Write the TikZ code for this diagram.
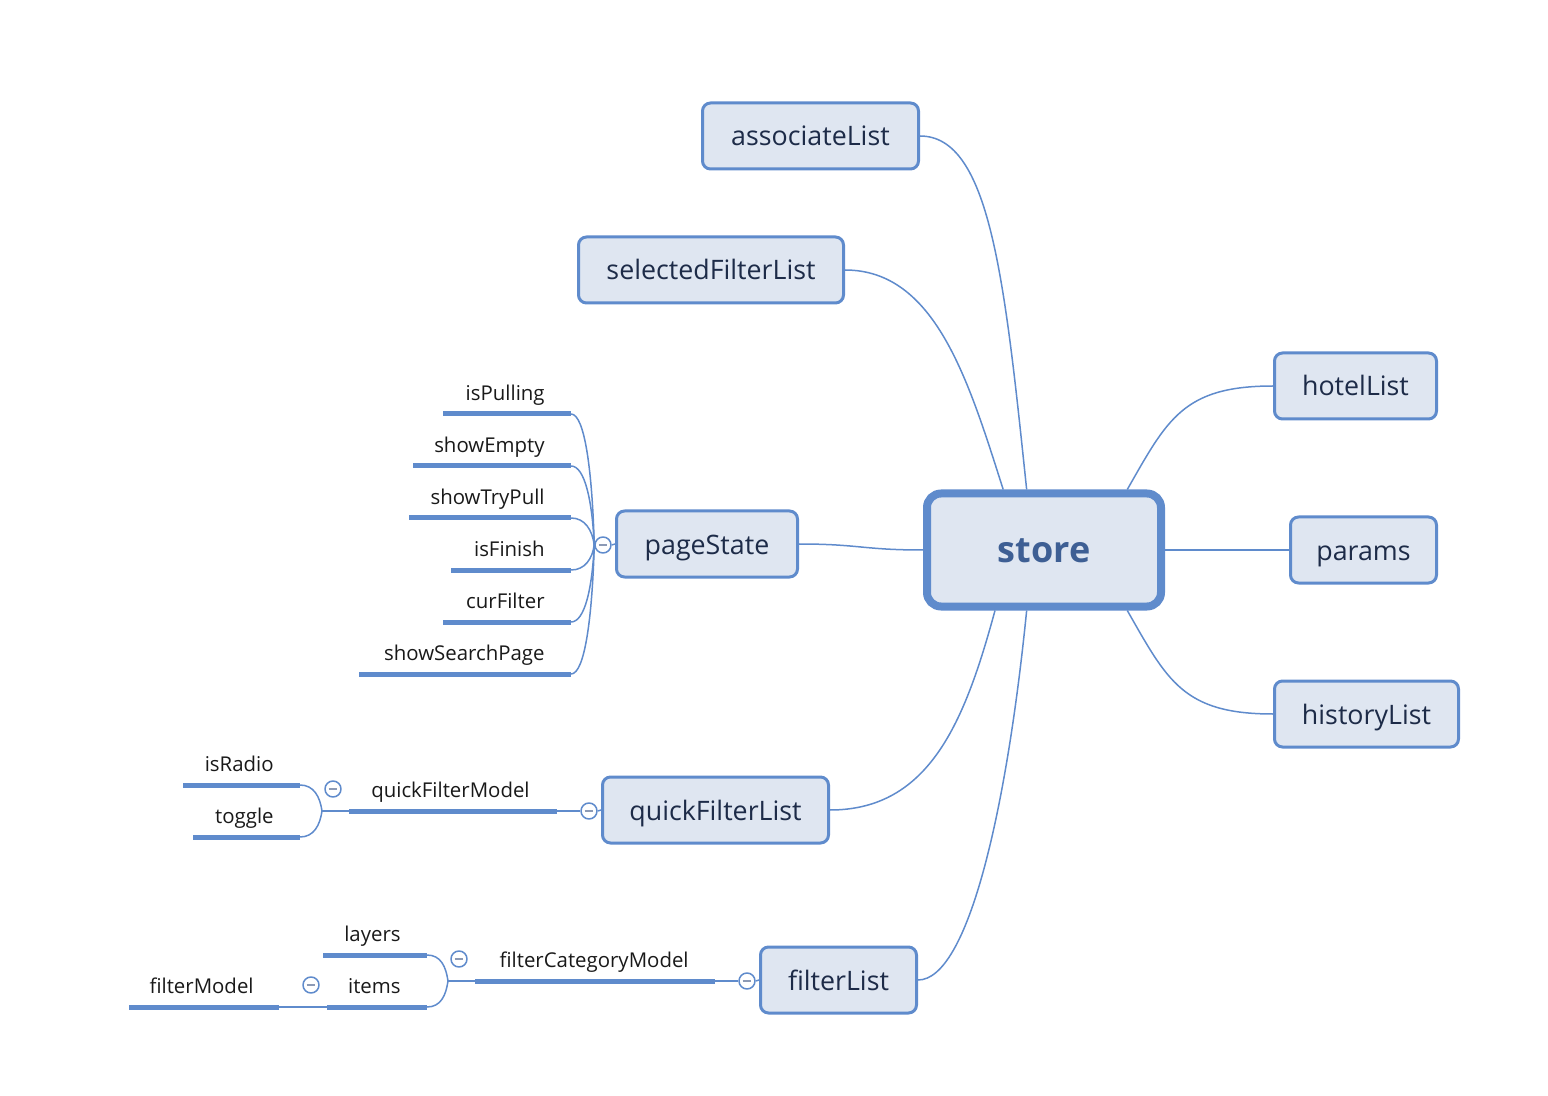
\documentclass[tikz,border=0pt]{standalone}
\usepackage{fontspec}
\setmainfont{Open Sans}
\definecolor{mapblue}{HTML}{5F8BCC}
\definecolor{mapfill}{HTML}{DFE6F1}
\definecolor{topictext}{HTML}{1D2B48}
\definecolor{roottext}{HTML}{3E5F94}
\definecolor{minusgrey}{HTML}{8C9AB5}

\tikzset{
  root/.style={draw=mapblue, fill=mapfill, line width=4pt, rounded corners=7pt,
    minimum width=117pt, minimum height=56.5pt, text height=12.6pt, text depth=0pt,
    font=\fontsize{18}{20}\selectfont\bfseries, text=roottext},
  topic/.style={draw=mapblue, fill=mapfill, line width=1.5pt, rounded corners=4pt,
    minimum height=33pt, text height=10pt, text depth=0pt,
    font=\fontsize{13.4}{15}\selectfont, text=topictext},
  leaf/.style={anchor=base east, inner sep=0pt, font=\fontsize{10.2}{12}\selectfont, text=black!90},
  bar/.style={draw=mapblue, line width=2.5pt},
  link/.style={draw=mapblue, line width=0.75pt},
  fold/.style={circle, draw=mapblue, fill=white, line width=0.75pt, minimum size=8pt, inner sep=0pt,
    path picture={\draw[minusgrey, line width=0.8pt]
      ([xshift=-2.2pt]path picture bounding box.center) -- ([xshift=2.2pt]path picture bounding box.center);}},
}

\begin{document}
\begin{tikzpicture}[x=0.5pt,y=-0.5pt,line cap=butt,line join=round]
  \useasboundingbox (0,0) rectangle (1548,1096);

  % main topics
  \node[root] (st) at (1044,550) {store};
  \node[topic, minimum width=108pt] (al) at (810.5,136) {associateList};
  \node[topic, minimum width=132.5pt] (sf) at (711,270) {selectedFilterList};
  \node[topic, minimum width=81pt] (hl) at (1355.5,386) {hotelList};
  \node[topic, minimum width=73pt] (pr) at (1363.5,550) {params};
  \node[topic, minimum width=92pt] (hi) at (1366.5,714) {historyList};
  \node[topic, minimum width=90.5pt] (ps) at (707,544) {pageState};
  \node[topic, minimum width=113pt] (qf) at (715.5,810) {quickFilterList};
  \node[topic, minimum width=78pt] (fl) at (838.5,980) {filterList};

  % links from the root
  \draw[link] (st.106.6) .. controls +(-22,-210) and +(70,0) .. (al.east);
  \draw[link] (st.124.5) .. controls +(-35,-110) and +(90,0) .. (sf.east);
  \draw[link] (st.36.3) .. controls +(40,-70) and +(-90,0) .. (hl.west);
  \draw[link] (st.east) .. controls +(60,0) and +(-60,0) .. (pr.west);
  \draw[link] (st.-36.3) .. controls +(40,70) and +(-90,0) .. (hi.west);
  \draw[link] (st.west) .. controls +(-60,0) and +(60,0) .. (ps.east);
  \draw[link] (st.231.3) .. controls +(-30,110) and +(100,0) .. (qf.east);
  \draw[link] (st.254.2) .. controls +(-20,200) and +(50,0) .. (fl.east);

  % pageState
  \node[fold] (psf) at (603,545) {};
  \draw[link] (psf.east) -- (ps.west);
  \foreach \nm/\txt/\y/\xs in {ipl/isPulling/414/443, sem/showEmpty/466/413,
      stp/showTryPull/518/409, ifn/isFinish/570/451, cfl/curFilter/622/443,
      ssp/showSearchPage/674/359}{
    \draw[bar] (\xs,\y) -- (571,\y) coordinate (\nm-e);
    \node[leaf] (\nm) at (545,\y-13.5) {\txt};
    \draw[link] (\nm-e) .. controls +(14,0) and +(-2,{(\y-545)*0.55}) .. (psf.west);
  }

  % quickFilterList
  \node[fold] (qff) at (589,811) {};
  \draw[link] (qff.east) -- (qf.west);
  \draw[bar] (349,811) coordinate (qfm-w) -- (557,811) coordinate (qfm-e);
  \node[leaf] (qfm) at (530,797.5) {quickFilterModel};
  \draw[link] (qfm-e) -- (qff.west);
  \node[fold] (qfmf) at (333,789) {};
  \coordinate (qfmj) at (322,811);
  \draw[link] (qfmj) -- (qfm-w);
  \draw[bar] (183,785) -- (300,785) coordinate (isr-e);
  \node[leaf] (isr) at (274,771.5) {isRadio};
  \draw[bar] (193,837) -- (300,837) coordinate (tog-e);
  \node[leaf] (tog) at (274,823.5) {toggle};
  \draw[link] (isr-e) .. controls +(14,0) and +(-2,-14) .. (qfmj);
  \draw[link] (tog-e) .. controls +(14,0) and +(-2,14) .. (qfmj);

  % filterList
  \node[fold] (flf) at (747,981) {};
  \draw[link] (flf.east) -- (fl.west);
  \draw[bar] (475,981) coordinate (fcm-w) -- (715,981) coordinate (fcm-e);
  \node[leaf] (fcm) at (689,967.5) {filterCategoryModel};
  \draw[link] (fcm-e) -- (flf.west);
  \node[fold] (fcmf) at (459,959) {};
  \coordinate (fcmj) at (448,981);
  \draw[link] (fcmj) -- (fcm-w);
  \draw[bar] (323,955) -- (427,955) coordinate (lay-e);
  \node[leaf] (lay) at (401,941.5) {layers};
  \draw[bar] (327,1007) coordinate (itm-w) -- (427,1007) coordinate (itm-e);
  \node[leaf] (itm) at (401,993.5) {items};
  \draw[link] (lay-e) .. controls +(14,0) and +(-2,-14) .. (fcmj);
  \draw[link] (itm-e) .. controls +(14,0) and +(-2,14) .. (fcmj);
  \node[fold] (itf) at (311,985) {};
  \draw[bar] (129,1007) -- (279,1007) coordinate (fmd-e);
  \node[leaf] (fmd) at (254,993.5) {filterModel};
  \draw[link] (fmd-e) -- (itm-w);
\end{tikzpicture}
\end{document}
